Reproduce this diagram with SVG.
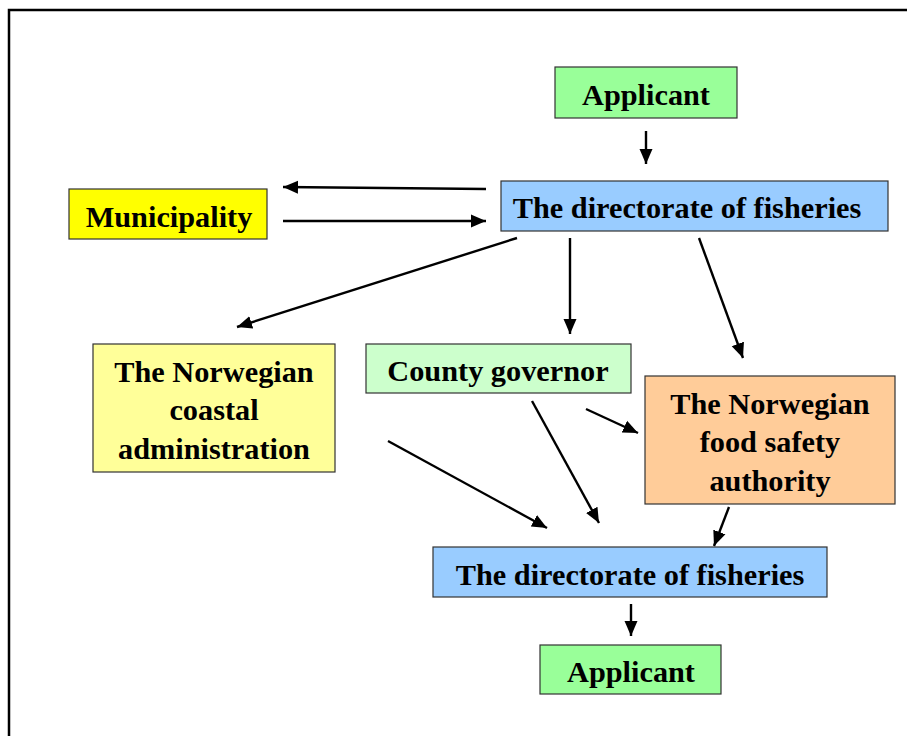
<svg xmlns="http://www.w3.org/2000/svg" width="907" height="736" viewBox="0 0 907 736">
<style>
.box{stroke:#333;stroke-width:1.2}
.t{font-family:"Liberation Serif","Times New Roman",serif;font-weight:bold;font-size:30.3px;fill:#000;text-anchor:middle}
.c line{stroke:#000;stroke-width:2.4;marker-end:url(#ah)}
</style>
<defs>
<marker id="ah" markerUnits="userSpaceOnUse" markerWidth="16" markerHeight="14" refX="15" refY="7" orient="auto">
<path d="M0,0.5 L15,7 L0,13.5 Z" fill="#000"/>
</marker>
</defs>
<rect width="907" height="736" fill="#fff"/>
<path d="M9,736 V10 H907" fill="none" stroke="#000" stroke-width="2.5"/>
<g id="applicant-top"><rect class="box" x="555" y="67" width="182" height="51" fill="#99ff99"/><text class="t" x="646" y="105">Applicant</text></g>
<g id="directorate-top"><rect class="box" x="501" y="181" width="387" height="50" fill="#99ccff"/><text class="t" x="687" y="218">The directorate of fisheries</text></g>
<g id="municipality"><rect class="box" x="69" y="189" width="198" height="50" fill="#ffff00"/><text class="t" x="169" y="227">Municipality</text></g>
<g id="coastal"><rect class="box" x="93" y="344" width="242" height="128" fill="#ffff99"/><text class="t" x="214" y="382">The Norwegian</text><text class="t" x="214" y="420">coastal</text><text class="t" x="214" y="459">administration</text></g>
<g id="county"><rect class="box" x="366" y="344" width="265" height="49" fill="#ccffcc"/><text class="t" x="498" y="381">County governor</text></g>
<g id="food"><rect class="box" x="645" y="376" width="250" height="128" fill="#ffcc99"/><text class="t" x="770" y="414">The Norwegian</text><text class="t" x="770" y="452">food safety</text><text class="t" x="770" y="491">authority</text></g>
<g id="directorate-bottom"><rect class="box" x="433" y="547" width="394" height="50" fill="#99ccff"/><text class="t" x="630" y="585">The directorate of fisheries</text></g>
<g id="applicant-bottom"><rect class="box" x="540" y="645" width="181" height="49" fill="#99ff99"/><text class="t" x="631" y="682">Applicant</text></g>
<g class="c" id="connectors">
<line x1="646" y1="131" x2="646" y2="164"/>
<line x1="486" y1="189" x2="283" y2="187"/>
<line x1="283" y1="221" x2="486" y2="221"/>
<line x1="517" y1="238" x2="237" y2="327"/>
<line x1="570" y1="238" x2="570" y2="334"/>
<line x1="699" y1="238" x2="743" y2="358"/>
<line x1="388" y1="441" x2="547" y2="528"/>
<line x1="532" y1="401" x2="599" y2="523"/>
<line x1="586" y1="409" x2="638" y2="433"/>
<line x1="729" y1="507" x2="714" y2="546"/>
<line x1="631" y1="604" x2="631" y2="636"/>
</g>
</svg>
